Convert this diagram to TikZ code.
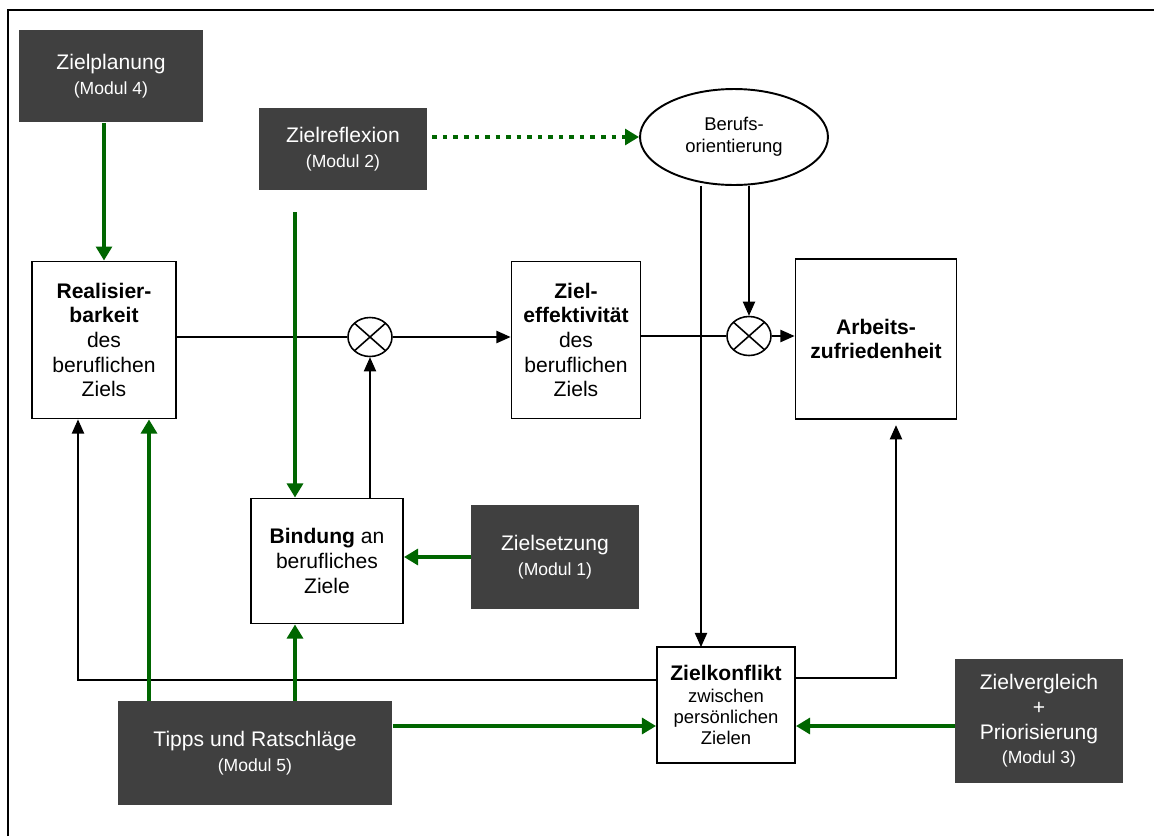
\documentclass[tikz,border=0pt]{standalone}
\usepackage{fontspec}
\setmainfont{Liberation Sans}
\usetikzlibrary{positioning,arrows.meta,shapes.geometric}
\definecolor{modgrau}{RGB}{64,64,64}
\definecolor{pfeilgruen}{RGB}{0,102,0}
\newcommand{\klein}{\fontsize{10}{13}\selectfont}

\begin{document}
\begin{tikzpicture}[x=0.02cm,y=-0.02cm,font=\fontsize{12}{14}\selectfont,
  modul/.style={fill=modgrau,text=white,align=center,inner sep=0pt},
  ziel/.style={draw,line width=1.1pt,fill=white,align=center,inner sep=0pt},
  mult/.style={draw,line width=0.9pt,ellipse,fill=white,inner sep=0pt,
    minimum width=0.88cm,minimum height=0.78cm,
    path picture={\draw[line width=0.9pt]
      (path picture bounding box.north west) -- (path picture bounding box.south east)
      (path picture bounding box.north east) -- (path picture bounding box.south west);}},
  fein/.style={line width=0.6pt,-{Triangle[length=8pt,width=7pt]}},
  gruen/.style={draw=pfeilgruen,line width=2.6pt,
    -{Triangle[length=8pt,width=9pt,fill=pfeilgruen]}}]
  \useasboundingbox (0,0) rectangle (1154,836);
  \draw[line width=1.2pt] (8,836) -- (8,10) -- (1154,10);

  % Module
  \node[modul,minimum width=3.68cm,minimum height=1.86cm] (planung) at (111,76)
    {Zielplanung\\\klein (Modul 4)};
  \node[modul,minimum width=3.36cm,minimum height=1.64cm] (reflexion) at (343,149)
    {Zielreflexion\\\klein (Modul 2)};
  \node[modul,minimum width=3.36cm,minimum height=2.08cm] (setzung) at (555,557)
    {Zielsetzung\\\klein (Modul 1)};
  \node[modul,minimum width=3.36cm,minimum height=2.5cm] (vergleich) at (1039,721)
    {Zielvergleich\\+\\Priorisierung\\\klein (Modul 3)};
  \node[modul,minimum width=5.5cm,minimum height=2.08cm] (tipps) at (255,753)
    {Tipps und Ratschläge\\\klein (Modul 5)};

  % Zielgroessen
  \node[draw,line width=1.1pt,ellipse,align=center,inner sep=0pt,
    minimum width=3.76cm,minimum height=1.92cm,
    font=\fontsize{10.5}{12.5}\selectfont] (beruf) at (734,137)
    {Berufs-\\orientierung};
  \node[ziel,minimum width=2.88cm,minimum height=3.14cm] (realisier) at (104,340)
    {\textbf{Realisier-}\\\textbf{barkeit}\\des\\beruflichen\\Ziels};
  \node[ziel,minimum width=2.58cm,minimum height=3.14cm] (zieleff) at (576,340)
    {\textbf{Ziel-}\\\textbf{effektivität}\\des\\beruflichen\\Ziels};
  \node[ziel,minimum width=3.22cm,minimum height=3.2cm] (arbeit) at (876,339)
    {\textbf{Arbeits-}\\\textbf{zufriedenheit}};
  \node[ziel,minimum width=3.04cm,minimum height=2.5cm] (bindung) at (327,561)
    {\textbf{Bindung} an\\berufliches\\Ziele};
  \node[ziel,minimum width=2.76cm,minimum height=2.32cm,
    font=\fontsize{10.5}{12}\selectfont] (konflikt) at (726,705)
    {{\fontsize{12}{14}\selectfont\bfseries Zielkonflikt}\\zwischen\\persönlichen\\Zielen};

  \node[mult] (m1) at (370,337) {};
  \node[mult] (m2) at (749,336) {};

  \coordinate (refl-ende) at (295,212);
  \coordinate (tipp-a) at (149,701);
  \coordinate (tipp-b) at (295,701);
  \coordinate (kon-ein) at (701,647);
  \coordinate (kon-gruen) at (726,726);
  \coordinate (rueck-l) at (78,680);
  \coordinate (rueck-r) at (896,678);

  % schwarze Pfeile
  \draw[line width=0.6pt] (realisier.east |- m1) -- (m1.west);
  \draw[fein] (m1.east) -- (m1.east -| zieleff.west);
  \draw[line width=0.9pt] (zieleff.east |- m2) -- (m2.west);
  \draw[fein] (m2.east) -- (m2.east -| arbeit.west);
  \draw[fein] (m1 |- bindung.north) -- (m1.south);
  \draw[fein] (m2 |- beruf.south) -- (m2.north);
  \draw[fein] (kon-ein |- beruf.south) -- (kon-ein);
  \draw[fein] (rueck-l -| konflikt.west) -- (rueck-l) -- (rueck-l |- realisier.south);
  \draw[fein,shorten >=3pt] (rueck-r -| konflikt.east) -- (rueck-r) -- (rueck-r |- arbeit.south);

  % gruene Pfeile
  \draw[gruen] (planung.south -| realisier.north) -- (realisier.north);
  \draw[gruen] (refl-ende) -- (refl-ende |- bindung.north);
  \draw[gruen,line width=2.3pt,dash pattern=on 2.6pt off 3.4pt]
    ([xshift=0.1cm]reflexion.east |- beruf.west) -- (beruf.west);
  \draw[gruen] (setzung.west) -- (setzung.west -| bindung.east);
  \draw[gruen] (tipp-a) -- (tipp-a |- realisier.south);
  \draw[gruen] (tipp-b) -- (tipp-b |- bindung.south);
  \draw[gruen] (tipps.east |- kon-gruen) -- (konflikt.west |- kon-gruen);
  \draw[gruen] (vergleich.west |- kon-gruen) -- (konflikt.east |- kon-gruen);
\end{tikzpicture}
\end{document}
